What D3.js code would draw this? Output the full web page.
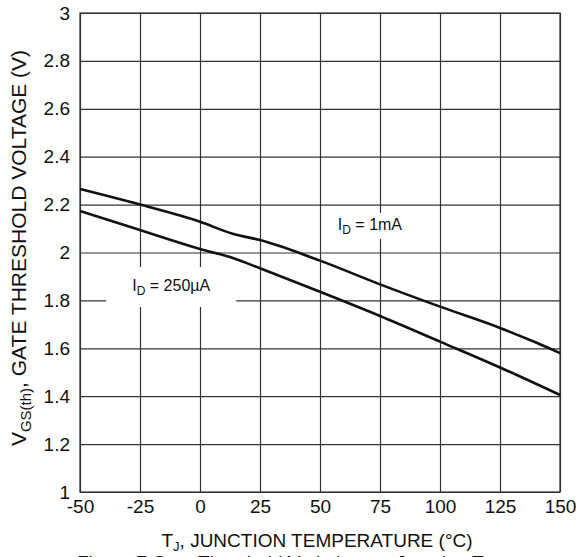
<!DOCTYPE html>
<html>
<head>
<meta charset="utf-8">
<script src="https://cdn.jsdelivr.net/npm/d3@7"></script>
<style>
  body { margin: 0; background: #fff; }
  svg { font-family: "Liberation Sans", Arial, Helvetica, sans-serif; }
  .grid line { stroke: #333; stroke-width: 1.2; }
  .grid path { display: none; }
  .tick text { fill: #111; font-size: 19px; }
  .curve { fill: none; stroke: #111; stroke-width: 2.6; }
</style>
</head>
<body>
<div id="fig"></div>
<script>
// Gate threshold voltage vs junction temperature
const xTicks = [-50, -25, 0, 25, 50, 75, 100, 125, 150];
const yTicks = [1, 1.2, 1.4, 1.6, 1.8, 2, 2.2, 2.4, 2.6, 2.8, 3];

const temps1mA = [-50, -25, 0, 14, 25, 50, 75, 100, 125, 140, 150];
const vth1mA   = [2.265, 2.20, 2.128, 2.077, 2.052, 1.966, 1.867, 1.774, 1.685, 1.624, 1.58];

const temps250uA = [-50, -25, 0, 14, 25, 50, 75, 100, 125, 150];
const vth250uA   = [2.173, 2.094, 2.015, 1.976, 1.934, 1.836, 1.735, 1.628, 1.52, 1.405];

const margin = {top: 13, right: 19, bottom: 65, left: 80};
const width = 480, height = 479;

const svg = d3.select("#fig").append("svg")
    .attr("width", 579)
    .attr("height", 557);

const g = svg.append("g")
    .attr("transform", "translate(" + margin.left + "," + margin.top + ")");

const x = d3.scaleLinear().domain([-50, 150]).range([0, width]);
const y = d3.scaleLinear().domain([1, 3]).range([height, 0]);

// grid lines (done via axes with full-length ticks)
g.append("g")
    .attr("class", "grid")
    .attr("transform", "translate(0," + height + ")")
    .call(d3.axisBottom(x).tickValues(xTicks).tickSize(-height).tickFormat(""));

g.append("g")
    .attr("class", "grid")
    .call(d3.axisLeft(y).tickValues(yTicks).tickSize(-width).tickFormat(""));

// plot frame
g.append("rect")
    .attr("width", width)
    .attr("height", height)
    .attr("fill", "none")
    .attr("stroke", "#333")
    .attr("stroke-width", 1.2);

// tick labels, plain hyphen for the minus like the original
g.append("g")
    .attr("transform", "translate(0," + height + ")")
    .call(d3.axisBottom(x).tickValues(xTicks).tickSize(0).tickPadding(8).tickFormat(d => String(d)))
    .call(a => a.select(".domain").remove());

g.append("g")
    .call(d3.axisLeft(y).tickValues(yTicks).tickSize(0).tickPadding(10).tickFormat(d => String(+d.toFixed(1))))
    .call(a => a.select(".domain").remove());

// curves
const line = d3.line()
    .x(d => x(d[0]))
    .y(d => y(d[1]))
    .curve(d3.curveMonotoneX);

g.append("path")
    .datum(d3.zip(temps1mA, vth1mA))
    .attr("class", "curve")
    .attr("d", line);

g.append("path")
    .datum(d3.zip(temps250uA, vth250uA))
    .attr("class", "curve")
    .attr("d", line);

// curve labels, with white boxes that blank out the grid behind them
function curveLabel(t, v, boxW, boxH, num) {
    const cx = x(t), cy = y(v);
    g.append("rect")
        .attr("x", cx - boxW / 2)
        .attr("y", cy - boxH / 2)
        .attr("width", boxW)
        .attr("height", boxH)
        .attr("fill", "#fff");
    const txt = g.append("text")
        .attr("x", cx)
        .attr("y", cy + 4)
        .attr("text-anchor", "middle")
        .attr("font-size", 16)
        .attr("fill", "#111");
    txt.append("tspan").text("I");
    txt.append("tspan").attr("font-size", 12).attr("dy", 4).text("D");
    txt.append("tspan").attr("dy", -4).text(" = " + num);
}
curveLabel(70.8, 2.111, 60, 26, "1mA");
curveLabel(-12, 1.856, 130, 40, "250\u00b5A");

// axis titles
const xt = svg.append("text")
    .attr("x", 317)
    .attr("y", 547)
    .attr("text-anchor", "middle")
    .attr("font-size", 19)
    .attr("fill", "#111");
xt.append("tspan").text("T");
xt.append("tspan").attr("font-size", 13).attr("dy", 4).text("J");
xt.append("tspan").attr("dy", -4).text(", JUNCTION TEMPERATURE (\u00b0C)");

const yt = svg.append("text")
    .attr("transform", "translate(26,248) rotate(-90)")
    .attr("text-anchor", "middle")
    .attr("font-size", 21)
    .attr("fill", "#111");
yt.append("tspan").text("V");
yt.append("tspan").attr("font-size", 15).attr("dy", 5).text("GS(th)");
yt.append("tspan").attr("dy", -5).text(", GATE THRESHOLD VOLTAGE (V)");

// figure caption, cut off by the bottom edge like the original
svg.append("text")
    .attr("x", 77)
    .attr("y", 569)
    .attr("font-size", 19)
    .attr("fill", "#111")
    .text("Figure 7 Gate Threshold Variation vs. Junction Temperature");
</script>
</body>
</html>
